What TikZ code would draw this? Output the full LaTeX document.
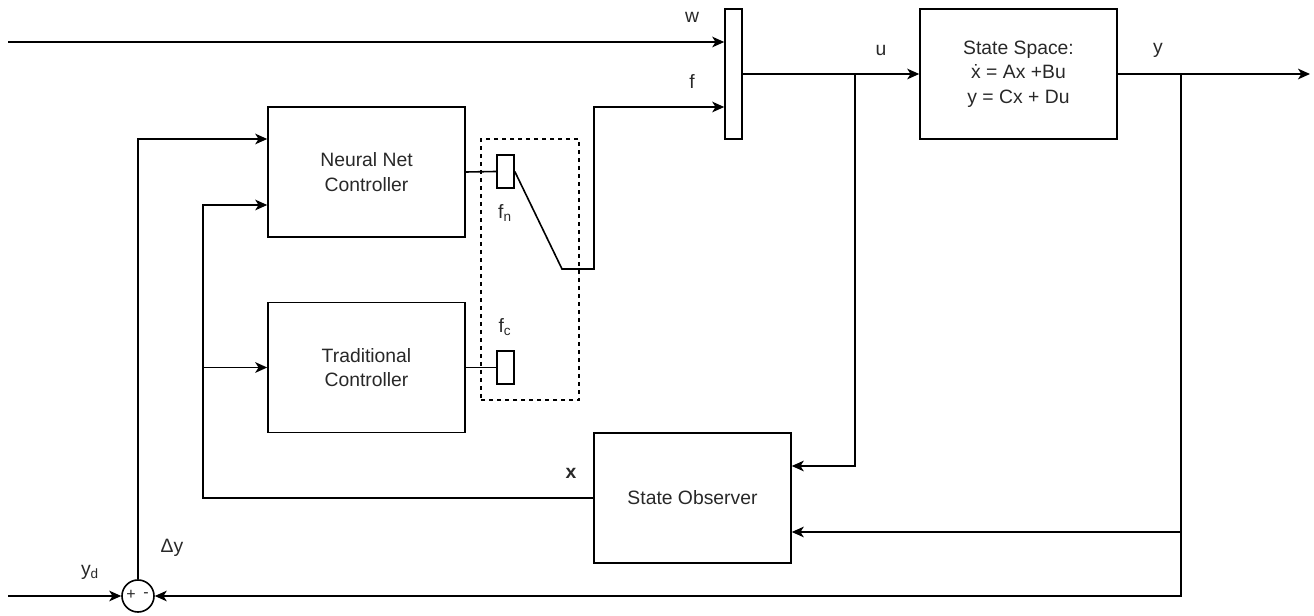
\documentclass[tikz,border=0pt]{standalone}
\usepackage{fontspec}
\setmainfont{Liberation Sans}
\usetikzlibrary{arrows.meta,calc}
\definecolor{txtgray}{RGB}{40,40,40}

\begin{document}
\begin{tikzpicture}[x=0.75pt,y=-0.75pt,line width=1.2pt,
    >={Stealth[length=9pt,width=8pt,inset=2.5pt]},
    blk/.style={draw,minimum width=147.75pt,minimum height=97.5pt,align=center,
      text=txtgray,font=\fontsize{14.5}{18.4}\selectfont},
    bar/.style={draw,inner sep=0pt,minimum width=12.75pt},
    lbl/.style={text=txtgray,font=\fontsize{14.5}{17}\selectfont,inner sep=0pt}]
  \useasboundingbox (0,0) rectangle (1314,616);
  \node[blk] (nnc) at (366.5,172) {Neural Net\\Controller};
  \node[blk] (trad) at (366.5,367.5) {Traditional\\Controller};
  \node[blk] (obs) at (692.5,498) {State Observer};
  \node[blk] (ss) at (1018.5,74) {State Space:\\ẋ = Ax +Bu\\y = Cx + Du};
  \node[bar,minimum height=97.5pt] (mux) at (733.5,74) {};
  \node[bar,minimum height=24.75pt] (swn) at (505.5,171.5) {};
  \node[bar,minimum height=24.75pt] (swc) at (505.5,367.5) {};
  \node[draw,dashed,dash pattern=on 3pt off 3pt,line width=0.9pt,minimum width=73.5pt,
    minimum height=195.75pt,inner sep=0pt] (swbox) at (530,269.5) {};
  \node[draw,circle,minimum size=24pt,inner sep=0pt] (sum) at (138,596) {};
  \node[lbl,font=\fontsize{12}{13}\selectfont] (plus) at (131,595) {+};
  \node[lbl,font=\fontsize{12}{13}\selectfont] (minus) at (146,595) {-};
  \coordinate (win) at (8,42);
  \coordinate (ydin) at (8,596);
  \coordinate (yout) at (1310,74);
  \coordinate (ubr) at (855,74);
  \coordinate (ybr) at (1181,74);
  \coordinate (swtip) at (562,269);
  \coordinate (swbend) at (594,269);
  \coordinate (xbr) at (203,498);
  \draw[->] (win) -- (win -| mux.west);
  \draw (nnc.east) -- (swn.west);
  \draw (trad.east) -- (swc.west);
  \draw[->] (swn.east) -- (swtip) -- (swbend) |- ($(mux.west)+(0,33)$);
  \draw[->] (mux.east) -- (ss.west);
  \draw[->] (ss.east) -- (yout);
  \draw[->] (ubr) |- ($(obs.east)+(0,-32)$);
  \draw[->] (ybr) |- ($(obs.east)+(0,34)$);
  \draw[->] (ybr) |- (sum.east);
  \draw[->] (obs.west) -- (xbr) |- ($(nnc.west)+(0,33)$);
  \draw[->] (trad.west -| xbr) -- (trad.west);
  \draw[->] (ydin) -- (sum.west);
  \draw[->] (sum.north) |- ($(nnc.west)+(0,-33)$);
  \node[lbl] (wlbl) at (692,17) {w};
  \node[lbl] (flbl) at (692,82) {f};
  \node[lbl] (ulbl) at (881,50) {u};
  \node[lbl] (ylbl) at (1158,50) {y};
  \node[lbl] (fnlbl) at (505,213) {f\textsubscript{n}};
  \node[lbl] (fclbl) at (505,327) {f\textsubscript{c}};
  \node[lbl] (xlbl) at (571,473) {\textbf{x}};
  \node[lbl] (dylbl) at (172,548) {Δy};
  \node[lbl] (ydlbl) at (90,572) {y\textsubscript{d}};
\end{tikzpicture}
\end{document}
